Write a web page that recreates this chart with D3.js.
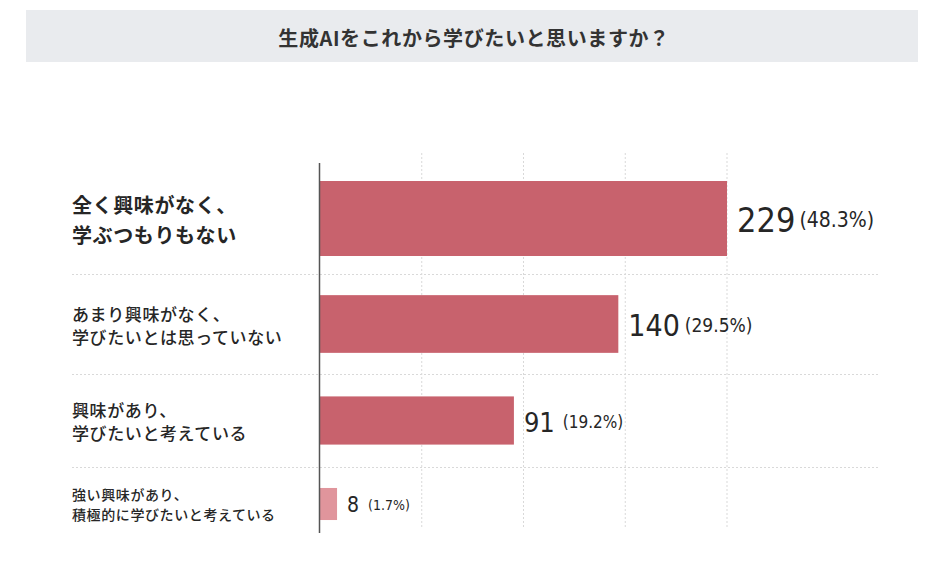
<!DOCTYPE html>
<html>
<head>
<meta charset="utf-8">
<script src="https://cdn.jsdelivr.net/npm/d3@7"></script>
<style>
body { margin: 0; background: #fff; }
svg { display: block; }
</style>
</head>
<body>
<div id="canvas"></div>
<script>
// ----------------------------------------------------------
// DATA -----------------------------------------------------
// ----------------------------------------------------------
var title_text = "生成AIをこれから学びたいと思いますか？";
var categories = [
  "全く興味がなく、\n学ぶつもりもない",
  "あまり興味がなく、\n学びたいとは思っていない",
  "興味があり、\n学びたいと考えている",
  "強い興味があり、\n積極的に学びたいと考えている"
];
var counts = [229, 140, 91, 8];
var shares = [48.3, 29.5, 19.2, 1.7];

// ----------------------------------------------------------
// LAYOUT / STYLE -------------------------------------------
// ----------------------------------------------------------
var W = 943, H = 577;
var plot_left = 320, plot_right = 727;
var plot_top = 163, plot_bottom = 541;
var row_weight = [111, 100, 93, 74];     // relative row heights
var label_size = [20, 17, 17, 14];
var label_gap = [30, 23, 23, 20];
var value_size = [34, 30, 27, 21];
var pct_size = [21, 19, 17, 14];
var pct_gap = [4, 5, 8, 9];
var bar_colors = ["#c8626d", "#c8626d", "#c8626d", "#e0959c"];
var color_text = "#262626";
var color_grid = "#d9d9d9";
var x_max = 191;   // longest bar is cut at the chart edge

var cjk = "'Noto Sans CJK JP', 'Noto Sans', sans-serif";
var num = "'DejaVu Sans Condensed', 'DejaVu Sans', " + cjk;

// ----------------------------------------------------------
// STRUCTURE ------------------------------------------------
// ----------------------------------------------------------
var svg = d3.select("#canvas").append("svg")
  .attr("width", W)
  .attr("height", H);

var layout_group = svg.append("g");
var grid_group = svg.append("g");
var bar_group = svg.append("g");
var text_group = svg.append("g");

// ----------------------------------------------------------
// SCALES ---------------------------------------------------
// ----------------------------------------------------------
var xScale = d3.scaleLinear()
  .domain([0, x_max])
  .range([plot_left, plot_right])
  .clamp(true);

var bounds = [0].concat(Array.from(d3.cumsum(row_weight)));
var yScale = d3.scaleLinear()
  .domain([0, d3.sum(row_weight)])
  .range([plot_top, plot_bottom]);
function rowCenter(i) { return yScale((bounds[i] + bounds[i + 1]) / 2); }

var thick = d3.scaleLinear()
  .domain([0, d3.max(counts)])
  .range([30.5, 75]);

// ----------------------------------------------------------
// TITLE BAR ------------------------------------------------
// ----------------------------------------------------------
layout_group.append("rect")
  .attr("x", 26)
  .attr("y", 10)
  .attr("width", 892)
  .attr("height", 52)
  .style("fill", "#e9ebee");

layout_group.append("text")
  .attr("x", 474)
  .attr("y", 37)
  .attr("text-anchor", "middle")
  .attr("dominant-baseline", "central")
  .style("font-family", cjk)
  .style("font-size", "20px")
  .style("font-weight", 700)
  .style("letter-spacing", "0.6px")
  .style("fill", "#333")
  .text(title_text);

// ----------------------------------------------------------
// GRID -----------------------------------------------------
// ----------------------------------------------------------
// vertical dotted lines
var grid_x = d3.range(1, 5).map(function(k) { return x_max * k / 4; });
grid_group.selectAll(".vgrid")
  .data(grid_x)
  .enter()
  .append("line")
  .attr("class", "vgrid")
  .attr("x1", function(d) { return xScale(d); })
  .attr("x2", function(d) { return xScale(d); })
  .attr("y1", plot_top - 10)
  .attr("y2", plot_bottom - 14)
  .attr("stroke", color_grid)
  .attr("stroke-width", 1)
  .attr("stroke-dasharray", "2,2");

// horizontal dotted lines between rows
grid_group.selectAll(".hgrid")
  .data(bounds.slice(1, -1))
  .enter()
  .append("line")
  .attr("class", "hgrid")
  .attr("x1", 72)
  .attr("x2", 880)
  .attr("y1", function(d) { return Math.round(yScale(d)) + 0.5; })
  .attr("y2", function(d) { return Math.round(yScale(d)) + 0.5; })
  .attr("stroke", color_grid)
  .attr("stroke-width", 1)
  .attr("stroke-dasharray", "2,2");

// ----------------------------------------------------------
// BARS -----------------------------------------------------
// ----------------------------------------------------------
bar_group.selectAll(".bar")
  .data(counts)
  .enter()
  .append("rect")
  .attr("class", "bar")
  .attr("x", xScale(0))
  .attr("y", function(d, i) { return rowCenter(i) - thick(d) / 2; })
  .attr("width", function(d) { return xScale(d) - xScale(0); })
  .attr("height", function(d) { return thick(d); })
  .style("fill", function(d, i) { return bar_colors[i]; });

// axis line
bar_group.append("line")
  .attr("x1", plot_left - 0.5)
  .attr("x2", plot_left - 0.5)
  .attr("y1", plot_top)
  .attr("y2", plot_bottom - 8)
  .attr("stroke", "#555")
  .attr("stroke-width", 1.5);

// ----------------------------------------------------------
// TEXT -----------------------------------------------------
// ----------------------------------------------------------
// category labels
categories.forEach(function(c, i) {
  var lines = c.split("\n");
  var cy = rowCenter(i);
  var t = text_group.append("text")
    .attr("x", 72)
    .style("font-family", cjk)
    .style("font-size", label_size[i] + "px")
    .style("font-weight", i == 0 ? 700 : 500)
    .style("letter-spacing", "0.6px")
    .style("fill", color_text)
    .attr("dominant-baseline", "central");
  lines.forEach(function(l, j) {
    t.append("tspan")
      .attr("x", 72)
      .attr("y", cy + (j - (lines.length - 1) / 2) * label_gap[i])
      .text(l);
  });
});

// value labels
counts.forEach(function(v, i) {
  var t = text_group.append("text")
    .attr("x", xScale(v) + 10)
    .attr("y", rowCenter(i) + 1)
    .attr("dominant-baseline", "central")
    .style("fill", color_text);
  t.append("tspan")
    .style("font-family", num)
    .style("font-size", value_size[i] + "px")
    .style("font-weight", 500)
    .text(v);
  t.append("tspan")
    .attr("dx", pct_gap[i])
    .style("font-family", num)
    .style("font-size", pct_size[i] + "px")
    .text("(" + shares[i] + "%)");
});
</script>
</body>
</html>
